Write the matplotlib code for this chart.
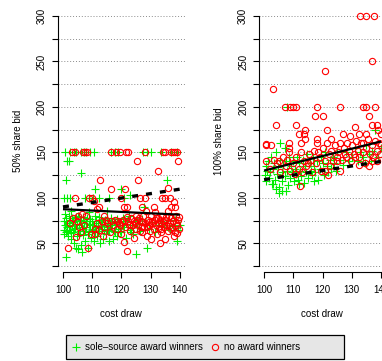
import matplotlib
matplotlib.use("Agg")
import matplotlib.pyplot as plt
from matplotlib.patches import Rectangle
from matplotlib.lines import Line2D

plt.rcParams['font.family'] = ['Liberation Sans', 'DejaVu Sans']
plt.rcParams['font.size'] = 7

# ---------------- data ----------------
x_ticks = [100, 110, 120, 130, 140]
y_ticks = list(range(25, 301, 25))
y_labels = [str(v) if v % 50 == 0 else '' for v in y_ticks]

# 50% share bids, sole-source award winners
half_sole = [
    (100.8, 150), (102.5, 150), (103.7, 150), (104.6, 150), (106.3, 150), (107.2, 150),
    (108.0, 150), (109.1, 150), (110.5, 150), (116.6, 150), (117.7, 150), (118.9, 150),
    (127.4, 150), (128.6, 150), (130.3, 150), (133.7, 150), (137.1, 150), (138.9, 150),
    (101.3, 140), (102.0, 140), (101.2, 120), (106.3, 127), (100.4, 100), (101.3, 100),
    (102.3, 100), (107.6, 100), (108.8, 100), (110.4, 100), (110.9, 110), (119.7, 110),
    (115.8, 100), (120.8, 100), (122.8, 103), (127.7, 90), (135.6, 120), (112.5, 100),
    (100.2, 60), (100.5, 65), (100.8, 70), (101.0, 62), (101.2, 75), (101.5, 68),
    (101.8, 58), (102.0, 72), (102.2, 80), (102.5, 65), (102.8, 55), (103.0, 70),
    (103.2, 78), (103.5, 62), (103.8, 50), (104.0, 74), (104.2, 67), (104.5, 45),
    (104.8, 58), (105.0, 80), (105.2, 44), (105.5, 70), (105.8, 63), (106.0, 48),
    (106.2, 76), (106.5, 40), (106.8, 66), (107.0, 59), (107.3, 72), (107.6, 53),
    (108.0, 68), (108.3, 78), (108.6, 45), (109.0, 62), (109.3, 70), (109.6, 56),
    (110.0, 74), (110.3, 65), (110.6, 52), (111.0, 80), (111.3, 68), (111.6, 58),
    (112.0, 72), (112.3, 63), (112.7, 50), (113.0, 76), (113.4, 66), (113.8, 55),
    (114.2, 70), (114.6, 60), (115.0, 78), (115.4, 64), (115.8, 53), (116.2, 72),
    (116.6, 67), (117.0, 55), (117.4, 75), (117.8, 62), (118.2, 70), (118.6, 58),
    (119.0, 66), (119.5, 73), (120.0, 62), (120.5, 78), (121.0, 68), (121.5, 56),
    (122.0, 74), (122.5, 80), (123.0, 65), (123.5, 70), (124.0, 60), (124.5, 75),
    (125.0, 38), (125.5, 68), (126.0, 72), (126.5, 63), (127.0, 77), (128.0, 70),
    (128.8, 45), (129.5, 66), (130.5, 73), (131.5, 62), (132.5, 70), (133.5, 75),
    (134.5, 68), (135.5, 72), (136.5, 65), (137.5, 70), (138.5, 76), (139.0, 53),
    (139.5, 65), (140.0, 70), (101.0, 35), (100.6, 82), (102.6, 85), (108.8, 84),
    (115.2, 85),
    (100.3, 74), (100.9, 78), (101.4, 64), (101.9, 69), (102.4, 76), (102.9, 61),
    (103.4, 73), (103.9, 66), (104.4, 79), (104.9, 71), (105.4, 60), (105.9, 74),
    (106.4, 68), (106.9, 79), (107.4, 64), (107.9, 74), (108.4, 60), (108.9, 71),
    (109.4, 77), (109.9, 66), (110.4, 70), (110.9, 62), (111.4, 75), (111.9, 67),
    (112.4, 79), (112.9, 69), (113.4, 73), (113.9, 63), (114.4, 76), (114.9, 68),
    (115.4, 72), (115.9, 65), (116.4, 78), (116.9, 70), (117.4, 64), (117.9, 73),
    (118.4, 77), (119.4, 64), (120.4, 70), (121.4, 75), (123.4, 62), (125.4, 74),
]

# 50% share bids, no award winners
half_none = [
    (103.0, 150), (104.0, 150), (106.9, 150), (107.5, 150), (108.3, 150), (116.6, 150),
    (118.0, 150), (119.4, 150), (121.7, 150), (122.3, 150), (128.0, 150), (134.2, 150),
    (134.8, 150), (137.1, 150), (137.7, 150), (138.3, 150), (139.0, 150),
    (125.5, 141), (132.5, 130), (112.8, 120), (125.8, 120), (116.5, 110), (121.3, 110),
    (135.8, 111), (104.0, 100), (109.0, 100), (110.0, 100), (120.0, 100), (126.5, 100),
    (128.0, 100), (134.0, 100), (135.0, 100), (139.5, 140), (138.0, 95), (138.5, 90),
    (137.0, 90), (131.0, 90), (127.0, 90), (122.0, 90), (121.0, 90), (112.5, 90),
    (111.5, 88), (108.0, 80), (105.0, 80), (114.0, 80), (110.5, 97), (136.5, 100),
    (101.8, 45), (108.5, 45), (122.0, 41), (104.5, 57), (133.2, 50), (121.0, 51),
    (135.0, 55), (139.0, 61), (102.5, 72), (103.5, 78), (104.8, 75), (105.5, 68),
    (106.5, 82), (107.2, 70), (109.5, 60), (110.8, 66), (111.5, 72), (112.2, 65),
    (113.2, 75), (114.2, 68), (115.0, 72), (116.0, 62), (117.0, 70), (117.8, 76),
    (118.5, 66), (119.2, 72), (120.0, 60), (120.6, 76), (121.4, 68), (122.2, 74),
    (122.8, 64), (123.4, 78), (124.0, 70), (124.6, 72), (125.0, 66), (125.4, 76),
    (125.8, 70), (126.2, 64), (126.6, 74), (127.0, 62), (127.4, 80), (127.8, 68),
    (128.2, 72), (128.6, 58), (129.0, 76), (129.4, 70), (129.8, 64), (130.2, 80),
    (130.6, 72), (131.0, 66), (131.4, 76), (131.8, 70), (132.2, 60), (132.6, 78),
    (133.0, 72), (133.4, 66), (133.8, 80), (134.2, 74), (134.6, 68), (135.0, 76),
    (135.4, 70), (135.8, 64), (136.2, 80), (136.6, 72), (137.0, 78), (137.4, 68),
    (137.8, 74), (138.2, 62), (138.6, 80), (139.0, 70), (139.4, 76), (139.8, 66),
    (128.4, 85), (131.6, 84), (136.0, 86), (124.4, 56), (130.0, 55), (111.0, 60),
    (113.6, 58), (119.6, 70), (116.4, 74), (106.0, 62), (133.6, 62), (138.0, 58),
    (120.3, 73), (121.8, 79), (123.1, 71), (124.3, 75), (126.0, 78), (127.2, 73),
    (128.9, 68), (130.4, 75), (131.9, 78), (132.9, 67), (134.0, 71), (135.2, 79),
    (136.4, 69), (137.6, 75), (138.8, 72), (139.6, 79), (126.9, 68), (129.6, 73),
    (133.1, 76), (136.9, 66), (124.9, 80), (122.6, 70), (118.8, 74), (114.8, 76),
]

# 100% share bids, sole-source award winners
full_sole = [
    (105.0, 105), (106.0, 108), (107.5, 108), (104.2, 110), (103.0, 115), (107.8, 200),
    (117.2, 118), (112.0, 115),
    (100.2, 125), (100.5, 135), (100.8, 118), (101.0, 130), (101.3, 140), (101.6, 122),
    (102.0, 128), (102.3, 145), (102.6, 115), (103.0, 132), (103.3, 138), (103.6, 120),
    (104.0, 150), (104.3, 126), (104.6, 134), (105.0, 112), (105.3, 142), (105.6, 160),
    (106.0, 128), (106.3, 118), (106.6, 136), (107.0, 155), (107.3, 124), (107.6, 140),
    (108.0, 130), (108.3, 114), (108.6, 145), (109.0, 122), (109.3, 135), (109.6, 128),
    (110.0, 140), (110.3, 118), (110.6, 132), (111.0, 126), (111.3, 145), (111.6, 120),
    (112.0, 138), (112.4, 130), (112.8, 124), (113.2, 142), (113.6, 116), (114.0, 135),
    (114.4, 128), (114.8, 148), (115.2, 122), (115.6, 138), (116.0, 130), (116.4, 125),
    (116.8, 145), (117.2, 135), (117.6, 128), (118.0, 140), (118.5, 120), (119.0, 132),
    (119.5, 145), (120.0, 138), (120.5, 125), (121.0, 150), (121.5, 135), (122.0, 128),
    (122.5, 142), (123.0, 133), (123.5, 145), (124.0, 138), (124.5, 130), (125.0, 150),
    (126.0, 142), (127.0, 136), (128.0, 150), (129.0, 140), (130.0, 145), (131.0, 155),
    (132.0, 140), (133.0, 150), (134.0, 145), (135.0, 158), (136.0, 148), (137.0, 152),
    (138.0, 175), (139.0, 145), (140.0, 155), (136.5, 140), (134.5, 138),
]

# 100% share bids, no award winners
full_none = [
    (133.0, 300), (135.0, 300), (137.5, 300), (137.0, 250), (121.0, 240), (103.0, 220),
    (104.0, 180), (102.2, 158), (100.5, 159), (107.0, 200), (109.0, 200), (110.0, 200),
    (111.0, 200), (108.5, 160), (108.5, 155), (111.0, 180), (112.0, 170), (112.5, 160),
    (113.5, 170), (114.0, 175), (114.0, 165), (117.5, 190), (118.0, 200), (120.0, 190),
    (118.0, 165), (121.5, 175), (122.0, 125), (126.0, 200), (127.0, 170), (131.0, 178),
    (132.5, 170), (134.0, 200), (135.0, 200), (136.0, 190), (137.0, 180), (138.0, 200),
    (138.5, 180), (139.0, 175), (140.0, 170), (112.4, 113),
    (100.8, 140), (102.0, 132), (103.5, 142), (104.5, 138), (105.5, 128), (106.5, 145),
    (107.5, 135), (108.0, 142), (109.0, 130), (110.0, 138), (111.0, 145), (111.8, 132),
    (112.8, 150), (113.6, 140), (114.5, 135), (115.5, 148), (116.0, 142), (117.0, 152),
    (117.8, 138), (118.5, 150), (119.2, 145), (120.0, 155), (120.8, 140), (121.5, 160),
    (122.2, 148), (123.0, 152), (123.6, 140), (124.2, 158), (124.8, 145), (125.4, 150),
    (126.0, 160), (126.6, 142), (127.2, 155), (127.8, 148), (128.4, 160), (129.0, 152),
    (129.6, 140), (130.2, 158), (130.8, 148), (131.4, 162), (132.0, 152), (132.6, 145),
    (133.2, 160), (133.8, 150), (134.4, 138), (135.0, 155), (135.6, 165), (136.2, 148),
    (136.8, 158), (137.4, 145), (138.0, 162), (138.6, 152), (139.2, 160), (139.8, 148),
    (140.0, 158), (137.0, 140), (134.0, 160), (131.0, 145), (128.0, 145), (125.0, 140),
    (122.5, 135), (119.5, 130), (116.5, 128), (113.0, 128), (110.5, 126), (121.0, 130),
    (126.0, 130), (136.0, 135), (138.5, 140), (132.5, 136), (115.0, 138), (118.0, 160),
    (105.0, 140), (108.5, 150), (100.8, 158), (123.0, 165), (129.5, 168), (135.0, 170),
]

# fitted lines (endpoints)
half_fit_solid = [(100, 87.5), (140, 81.5)]
half_fit_dashed = [(100, 90.0), (140, 109.5)]
full_fit_solid = [(100, 130.0), (140, 162.0)]
full_fit_dashed = [(100, 120.0), (140, 140.0)]

panels = [
    ("50% share bid", half_sole, half_none, half_fit_solid, half_fit_dashed),
    ("100% share bid", full_sole, full_none, full_fit_solid, full_fit_dashed),
]

# ---------------- figure ----------------
W, H = 382, 361
fig = plt.figure(figsize=(W / 100, H / 100), dpi=100)


def px_axes(left, right, top, bottom):
    return fig.add_axes([left / W, 1 - bottom / H, (right - left) / W, (bottom - top) / H])


GREEN = '#00ee00'
RED = '#ff0000'
panel_px = [(58.3, 184.5), (259.4, 385.6)]

for (ylab, sole, none, fit_s, fit_d), (lpx, rpx) in zip(panels, panel_px):
    ax = px_axes(lpx, rpx, 10, 272)
    ax.set_xlim(98.4, 141.6)
    ax.set_ylim(18.42, 306.58)
    ax.patch.set_visible(False)

    ax.yaxis.grid(True, linestyle=(0, (1, 2)), color='#8c8c8c', linewidth=0.7)
    ax.set_axisbelow(True)

    ax.plot([p[0] for p in sole], [p[1] for p in sole], linestyle='none', marker='+',
            color=GREEN, markersize=5.4, markeredgewidth=0.8, zorder=3)
    ax.plot([p[0] for p in none], [p[1] for p in none], linestyle='none', marker='o',
            markerfacecolor='none', markeredgecolor=RED, markersize=4.5,
            markeredgewidth=0.8, zorder=3)

    ax.plot([p[0] for p in fit_s], [p[1] for p in fit_s], color='black',
            linewidth=1.6, solid_capstyle='butt', zorder=4)
    ax.plot([p[0] for p in fit_d], [p[1] for p in fit_d], color='black',
            linewidth=2.4, linestyle=(0, (1.8, 2.4)), dash_capstyle='butt', zorder=4)

    for side in ('top', 'right'):
        ax.spines[side].set_visible(False)
    ax.spines['left'].set_bounds(25, 300)
    ax.spines['bottom'].set_bounds(100, 140)
    for side in ('left', 'bottom'):
        ax.spines[side].set_linewidth(0.8)
        ax.spines[side].set_color('black')

    ax.set_xticks(x_ticks)
    ax.set_xticklabels([str(v) for v in x_ticks])
    ax.set_yticks(y_ticks)
    ax.set_yticklabels(y_labels, rotation=90, va='center', ha='right')
    ax.tick_params(axis='both', direction='out', length=4.3, width=0.8,
                   labelsize=7, colors='black')
    ax.tick_params(axis='x', pad=4.8)
    ax.tick_params(axis='y', pad=3.8)

    xc = (lpx + 3.7 + lpx + 3.7 + 117) / 2
    fig.text(xc / W, 1 - 314 / H, "cost draw", ha='center', va='center', fontsize=7)
    fig.text((lpx - 40.5) / W, 1 - 141 / H, ylab, ha='center', va='center',
             rotation=90, fontsize=7)

# legend box
fig.add_artist(Rectangle((66 / W, 1 - 359 / H), (344 - 66) / W, (359 - 335) / H,
                         transform=fig.transFigure, facecolor='#e6e6e6',
                         edgecolor='black', linewidth=0.9, zorder=1))
handles = [
    Line2D([], [], linestyle='none', marker='+', color=GREEN, markersize=5.4,
           markeredgewidth=0.8),
    Line2D([], [], linestyle='none', marker='o', markerfacecolor='none',
           markeredgecolor=RED, markersize=4.5, markeredgewidth=0.8),
]
leg = fig.legend(handles, ["sole\u2013source award winners", "no award winners"],
                 loc='center left', bbox_to_anchor=(72 / W, 1 - 347 / H), ncol=2,
                 frameon=False, fontsize=7, borderaxespad=0, borderpad=0,
                 handlelength=0.8, handletextpad=0.5, columnspacing=0.9)
leg.set_zorder(2)

fig.savefig("out.png", dpi=100)
